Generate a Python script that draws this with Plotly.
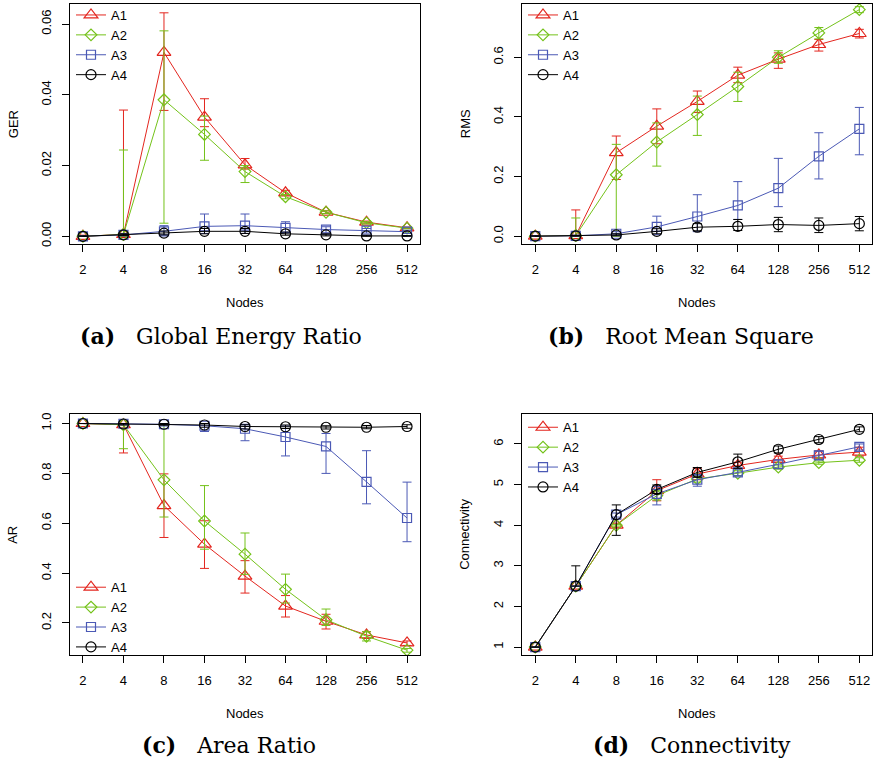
import plotly.graph_objects as go

W, H = 876, 767

nodes = ["2", "4", "8", "16", "32", "64", "128", "256", "512"]
series = ["A1", "A2", "A3", "A4"]
colors = ["#E3261F", "#74C21A", "#4B59B5", "#000000"]
symbols = ["triangle-up-open", "diamond-open", "square-open", "circle-open"]
sizes = [12, 9, 9, 10]

# ---- (a) Global Energy Ratio ----
ger_A1 = [0.0000, 0.0005, 0.0520, 0.0337, 0.0202, 0.0123, 0.0068, 0.0040, 0.0024]
ger_A1_up = [0.0003, 0.0357, 0.0632, 0.0389, 0.0220, 0.0130, 0.0072, 0.0043, 0.0026]
ger_A1_lo = [0.0000, 0.0000, 0.0356, 0.0310, 0.0190, 0.0117, 0.0064, 0.0037, 0.0022]
ger_A2 = [0.0000, 0.0005, 0.0386, 0.0288, 0.0183, 0.0112, 0.0068, 0.0038, 0.0023]
ger_A2_up = [0.0002, 0.0244, 0.0581, 0.0340, 0.0200, 0.0118, 0.0072, 0.0041, 0.0025]
ger_A2_lo = [0.0000, 0.0000, 0.0037, 0.0215, 0.0152, 0.0106, 0.0064, 0.0035, 0.0021]
ger_A3 = [0.0000, 0.0004, 0.0014, 0.0028, 0.0030, 0.0024, 0.0019, 0.0016, 0.0013]
ger_A3_up = [0.0001, 0.0008, 0.0030, 0.0063, 0.0063, 0.0041, 0.0027, 0.0022, 0.0017]
ger_A3_lo = [0.0000, 0.0001, 0.0004, 0.0008, 0.0008, 0.0010, 0.0010, 0.0009, 0.0008]
ger_A4 = [0.0000, 0.0004, 0.0009, 0.0014, 0.0014, 0.0007, 0.0004, 0.0001, 0.0001]
ger_A4_up = [0.0001, 0.0007, 0.0015, 0.0022, 0.0022, 0.0012, 0.0007, 0.0003, 0.0002]
ger_A4_lo = [0.0000, 0.0002, 0.0004, 0.0007, 0.0008, 0.0003, 0.0001, 0.0000, 0.0000]

# ---- (b) Root Mean Square ----
rms_A1 = [0.000, 0.002, 0.280, 0.369, 0.452, 0.540, 0.594, 0.643, 0.680]
rms_A1_up = [0.002, 0.088, 0.336, 0.427, 0.487, 0.567, 0.615, 0.660, 0.694]
rms_A1_lo = [0.000, 0.000, 0.190, 0.310, 0.415, 0.515, 0.563, 0.621, 0.665]
rms_A2 = [0.000, 0.002, 0.206, 0.316, 0.408, 0.502, 0.600, 0.682, 0.760]
rms_A2_up = [0.001, 0.061, 0.308, 0.380, 0.470, 0.550, 0.622, 0.700, 0.770]
rms_A2_lo = [0.000, 0.000, 0.000, 0.235, 0.338, 0.452, 0.580, 0.662, 0.750]
rms_A3 = [0.000, 0.001, 0.008, 0.031, 0.066, 0.103, 0.161, 0.268, 0.360]
rms_A3_up = [0.001, 0.003, 0.015, 0.067, 0.139, 0.183, 0.261, 0.347, 0.432]
rms_A3_lo = [0.000, 0.000, 0.002, 0.005, 0.015, 0.056, 0.099, 0.192, 0.273]
rms_A4 = [0.000, 0.001, 0.004, 0.016, 0.030, 0.033, 0.039, 0.036, 0.042]
rms_A4_up = [0.001, 0.003, 0.008, 0.025, 0.042, 0.056, 0.063, 0.061, 0.066]
rms_A4_lo = [0.000, 0.000, 0.001, 0.008, 0.018, 0.019, 0.015, 0.012, 0.018]

# ---- (c) Area Ratio ----
ar_A1 = [1.000, 0.995, 0.671, 0.516, 0.388, 0.268, 0.207, 0.152, 0.120]
ar_A1_up = [1.000, 1.000, 0.798, 0.610, 0.450, 0.310, 0.235, 0.165, 0.128]
ar_A1_lo = [1.000, 0.882, 0.543, 0.419, 0.320, 0.224, 0.176, 0.138, 0.110]
ar_A2 = [1.000, 0.995, 0.774, 0.609, 0.476, 0.335, 0.213, 0.147, 0.091]
ar_A2_up = [1.000, 1.000, 1.000, 0.751, 0.561, 0.396, 0.256, 0.165, 0.098]
ar_A2_lo = [1.000, 0.899, 0.625, 0.496, 0.395, 0.280, 0.190, 0.128, 0.083]
ar_A3 = [1.000, 0.999, 0.997, 0.991, 0.979, 0.946, 0.908, 0.766, 0.621]
ar_A3_up = [1.000, 1.000, 1.000, 1.000, 0.995, 0.990, 0.960, 0.891, 0.765]
ar_A3_lo = [1.000, 0.995, 0.990, 0.968, 0.931, 0.870, 0.800, 0.678, 0.526]
ar_A4 = [1.000, 0.998, 0.997, 0.994, 0.988, 0.987, 0.985, 0.985, 0.988]
ar_A4_up = [1.000, 1.000, 1.000, 1.000, 0.995, 0.994, 0.991, 0.992, 0.995]
ar_A4_lo = [1.000, 0.994, 0.993, 0.985, 0.978, 0.980, 0.978, 0.979, 0.981]

# ---- (d) Connectivity ----
con_A1 = [1.00, 2.50, 4.00, 4.85, 5.26, 5.47, 5.62, 5.73, 5.80]
con_A1_up = [1.00, 2.50, 4.05, 5.12, 5.40, 5.55, 5.70, 5.83, 5.92]
con_A1_lo = [1.00, 2.50, 3.95, 4.60, 5.12, 5.39, 5.55, 5.65, 5.70]
con_A2 = [1.00, 2.50, 4.00, 4.73, 5.14, 5.28, 5.43, 5.54, 5.60]
con_A2_up = [1.00, 2.50, 4.02, 4.85, 5.20, 5.34, 5.48, 5.58, 5.66]
con_A2_lo = [1.00, 2.50, 3.98, 4.62, 5.06, 5.22, 5.38, 5.50, 5.55]
con_A3 = [1.00, 2.50, 4.26, 4.77, 5.12, 5.30, 5.50, 5.72, 5.93]
con_A3_up = [1.00, 2.50, 4.30, 4.95, 5.25, 5.38, 5.60, 5.82, 6.00]
con_A3_lo = [1.00, 2.50, 4.20, 4.50, 4.96, 5.22, 5.40, 5.62, 5.85]
con_A4 = [1.00, 2.50, 4.26, 4.88, 5.30, 5.56, 5.87, 6.11, 6.36]
con_A4_up = [1.00, 3.00, 4.50, 4.99, 5.42, 5.75, 5.95, 6.18, 6.42]
con_A4_lo = [1.00, 2.50, 3.75, 4.78, 5.18, 5.40, 5.78, 6.03, 6.30]

panels = [
    dict(means=[ger_A1, ger_A2, ger_A3, ger_A4],
         ups=[ger_A1_up, ger_A2_up, ger_A3_up, ger_A4_up],
         los=[ger_A1_lo, ger_A2_lo, ger_A3_lo, ger_A4_lo],
         ylabel="GER", caption="(a)", captext="Global Energy Ratio",
         box=(70, 2, 420, 244), yrange=[-0.0023, 0.0657],
         ticks=[0, 0.02, 0.04, 0.06], fmt=".2f",
         legend=(71, -2), capcenter=(221, 336), ylab_x=13),
    dict(means=[rms_A1, rms_A2, rms_A3, rms_A4],
         ups=[rms_A1_up, rms_A2_up, rms_A3_up, rms_A4_up],
         los=[rms_A1_lo, rms_A2_lo, rms_A3_lo, rms_A4_lo],
         ylabel="RMS", caption="(b)", captext="Root Mean Square",
         box=(522.3, 2, 872.3, 244), yrange=[-0.0277, 0.779],
         ticks=[0, 0.2, 0.4, 0.6], fmt=".1f",
         legend=(523, -2), capcenter=(681, 336), ylab_x=465),
    dict(means=[ar_A1, ar_A2, ar_A3, ar_A4],
         ups=[ar_A1_up, ar_A2_up, ar_A3_up, ar_A4_up],
         los=[ar_A1_lo, ar_A2_lo, ar_A3_lo, ar_A4_lo],
         ylabel="AR", caption="(c)", captext="Area Ratio",
         box=(70, 415, 420, 657.7), yrange=[0.070, 1.037],
         ticks=[0.2, 0.4, 0.6, 0.8, 1.0], fmt=".1f",
         legend=(71, 574), capcenter=(229, 748), ylab_x=13),
    dict(means=[con_A1, con_A2, con_A3, con_A4],
         ups=[con_A1_up, con_A2_up, con_A3_up, con_A4_up],
         los=[con_A1_lo, con_A2_lo, con_A3_lo, con_A4_lo],
         ylabel="Connectivity", caption="(d)", captext="Connectivity",
         box=(522.3, 415, 872.3, 657.7), yrange=[0.795, 6.73],
         ticks=[1, 2, 3, 4, 5, 6], fmt="d",
         legend=(523, 413), capcenter=(692, 748), ylab_x=465),
]

fig = go.Figure()
layout = dict(width=W, height=H, margin=dict(l=0, r=0, t=0, b=0),
              paper_bgcolor="white", plot_bgcolor="white",
              font=dict(family="Liberation Sans, Arial, sans-serif", size=13, color="black"),
              showlegend=True)
annotations = []

for i, p in enumerate(panels):
    n = i + 1
    xa = "x" if n == 1 else f"x{n}"
    ya = "y" if n == 1 else f"y{n}"
    leg = "legend" if n == 1 else f"legend{n}"
    x0, y0, x1, y1 = p["box"]
    for s in range(4):
        m, u, lo = p["means"][s], p["ups"][s], p["los"][s]
        fig.add_trace(go.Scatter(
            x=nodes, y=m, name=series[s], xaxis=xa, yaxis=ya, legend=leg,
            mode="lines+markers",
            line=dict(color=colors[s], width=1),
            marker=dict(symbol=symbols[s], size=sizes[s], color=colors[s],
                        line=dict(color=colors[s], width=1.2)),
            error_y=dict(type="data", symmetric=False,
                         array=[a - b for a, b in zip(u, m)],
                         arrayminus=[b - a for a, b in zip(lo, m)],
                         color=colors[s], thickness=1, width=4.5),
        ))
    axis_common = dict(showline=True, mirror=True, linecolor="black", linewidth=1,
                       ticks="outside", ticklen=7, tickcolor="black", tickwidth=1,
                       showgrid=False, zeroline=False,
                       tickfont=dict(size=13, color="black"))
    layout["xaxis" if n == 1 else f"xaxis{n}"] = dict(
        axis_common, domain=[x0 / W, x1 / W], anchor=ya, type="category",
        range=[-0.32, 8.32], ticklabelstandoff=6)
    layout["yaxis" if n == 1 else f"yaxis{n}"] = dict(
        axis_common, domain=[1 - y1 / H, 1 - y0 / H], anchor=xa,
        range=p["yrange"], tickvals=p["ticks"], tickformat=p["fmt"],
        tickangle=-90, ticklabelstandoff=6)
    lx, ly = p["legend"]
    layout[leg] = dict(x=lx / W, y=1 - ly / H, xanchor="left", yanchor="top",
                       bgcolor="rgba(0,0,0,0)", borderwidth=0,
                       font=dict(size=13, color="black"), tracegroupgap=0)
    # axis titles
    annotations.append(dict(text="Nodes", xref="paper", yref="paper",
                            x=(x0 + x1) / 2 / W, y=1 - (y1 + 58) / H,
                            xanchor="center", yanchor="middle", showarrow=False,
                            font=dict(size=13)))
    annotations.append(dict(text=p["ylabel"], xref="paper", yref="paper",
                            x=p["ylab_x"] / W, y=1 - (y0 + y1) / 2 / H,
                            xanchor="center", yanchor="middle", showarrow=False,
                            textangle=-90, font=dict(size=13)))
    cx, cy = p["capcenter"]
    annotations.append(dict(text=f"<b>{p['caption']}</b>\u00a0\u00a0\u00a0{p['captext']}",
                            xref="paper", yref="paper", x=cx / W, y=1 - cy / H,
                            xanchor="center", yanchor="middle", showarrow=False,
                            font=dict(family="DejaVu Serif, serif", size=22, color="black")))

layout["annotations"] = annotations
fig.update_layout(**layout)
fig.write_html("out.html", config={"displayModeBar": False},
               post_script="document.body.style.margin='0';document.body.style.padding='0';")
